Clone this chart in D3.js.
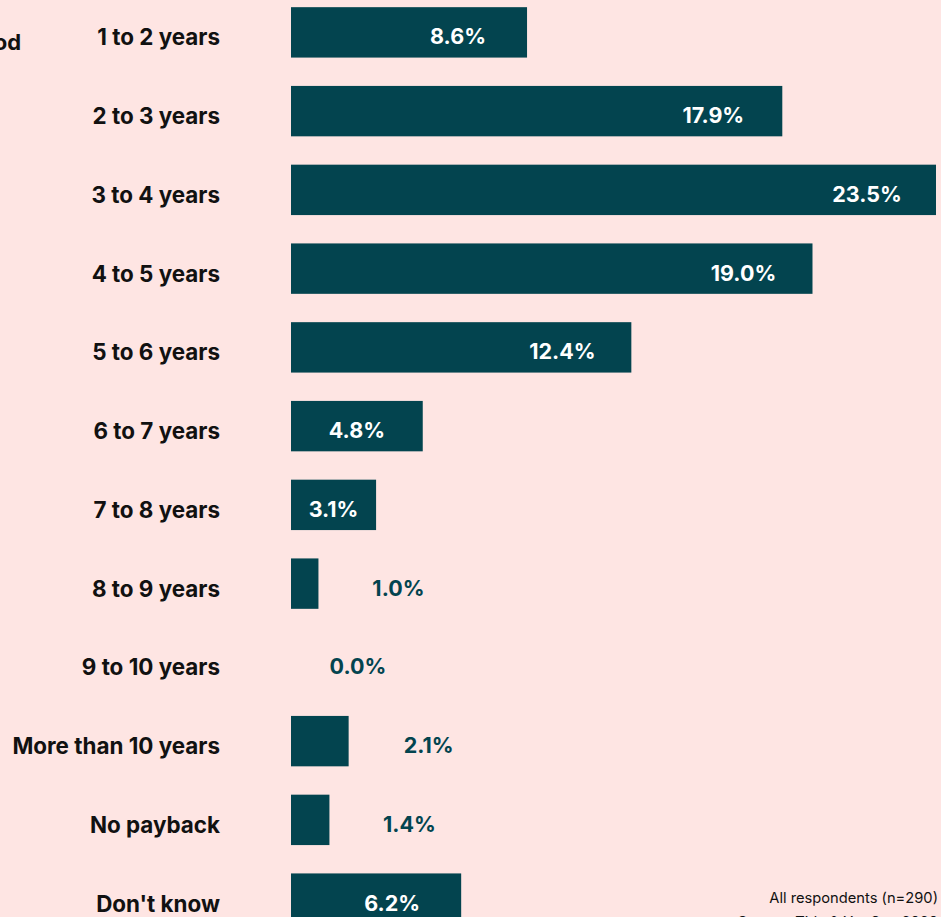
<!DOCTYPE html>
<html>
<head>
<meta charset="utf-8">
<script src="https://cdn.jsdelivr.net/npm/d3@7"></script>
<style>
  html, body { margin: 0; padding: 0; background: #fee5e3; overflow: hidden; }
  svg { display: block; font-family: Inter, "Noto Sans", sans-serif; }
</style>
</head>
<body>
<svg id="chart" width="941" height="917"></svg>
<script>
var categories = ["1 to 2 years", "2 to 3 years", "3 to 4 years", "4 to 5 years",
  "5 to 6 years", "6 to 7 years", "7 to 8 years", "8 to 9 years", "9 to 10 years",
  "More than 10 years", "No payback", "Don't know"];
var values = [8.6, 17.9, 23.5, 19.0, 12.4, 4.8, 3.1, 1.0, 0.0, 2.1, 1.4, 6.2];
var title = "Payback period";
var notes = ["All respondents (n=290)", "Source: Tidy & YouGov 2020"];

var width = 941, height = 917;
var teal = "#03444f";
var svg = d3.select("#chart");

var data = categories.map(function(c, i) { return {cat: c, v: values[i]}; });

var x = d3.scaleLinear().domain([0, 23.5]).range([291, 936]);
var y = d3.scaleBand().domain(categories).range([-7, 938]).paddingInner(0.36).paddingOuter(0.18);

// title, mostly off the left edge
svg.append("text")
  .attr("x", 21).attr("y", 50)
  .attr("text-anchor", "end")
  .attr("font-size", 22).attr("font-weight", 700)
  .attr("fill", "#111")
  .text(title);

// category labels
svg.append("g").selectAll("text")
  .data(data).enter().append("text")
  .attr("x", 220)
  .attr("y", d => y(d.cat) + y.bandwidth() / 2 + 13)
  .attr("text-anchor", "end")
  .attr("font-size", 22.4).attr("font-weight", 700)
  .attr("fill", "#111")
  .text(d => d.cat);

// bars
svg.append("g").selectAll("rect")
  .data(data.filter(d => d.v > 0)).enter().append("rect")
  .attr("x", x(0))
  .attr("y", d => y(d.cat))
  .attr("width", d => x(d.v) - x(0))
  .attr("height", y.bandwidth())
  .attr("fill", teal);

// value labels: inside (white) for wide bars, outside (teal) for narrow ones
function labelX(d) {
  var end = x(d.v), mid = (x(0) + end) / 2;
  if (d.v >= 3) return Math.max(mid, end - 69);
  return d.v === 0 ? end + 67 : end + 80;
}

svg.append("g").selectAll("text")
  .data(data).enter().append("text")
  .attr("x", labelX)
  .attr("y", d => y(d.cat) + y.bandwidth() / 2 + 12)
  .attr("text-anchor", "middle")
  .attr("font-size", 21.5).attr("font-weight", 700)
  .attr("fill", d => d.v >= 3 ? "#ffffff" : teal)
  .text(d => d.v.toFixed(1) + "%");

// footnotes
svg.append("g").selectAll("text")
  .data(notes).enter().append("text")
  .attr("x", 938)
  .attr("y", (d, i) => 903 + i * 24)
  .attr("text-anchor", "end")
  .attr("font-size", 14.7)
  .attr("fill", "#111")
  .text(d => d);
</script>
</body>
</html>
